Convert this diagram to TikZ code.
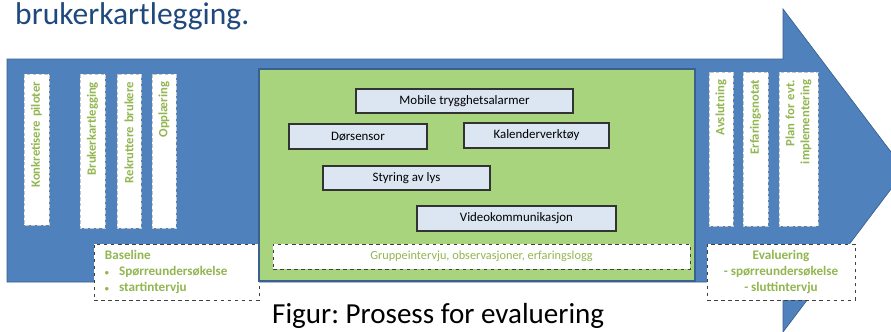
\documentclass[tikz,border=0pt]{standalone}
\usepackage{fontspec}
\setmainfont{Carlito}
\frenchspacing
\usetikzlibrary{positioning}
\definecolor{pilblaa}{RGB}{79,129,189}
\definecolor{pilkant}{RGB}{58,96,142}
\definecolor{feltgronn}{RGB}{168,212,126}
\definecolor{tekstgronn}{RGB}{146,182,80}
\definecolor{boksblaa}{RGB}{220,230,242}
\definecolor{overskrift}{RGB}{31,73,125}
\newcommand{\punkt}{{\fontsize{7}{8}\selectfont\textbullet}\hspace{0.3cm}}
\tikzset{pil/.style={fill=pilblaa,draw=pilkant,line width=0.6pt},
         felt/.style={fill=feltgronn,draw=pilkant,line width=1.4pt,inner sep=0pt},
         tiltak/.style={draw=black!80,fill=boksblaa,line width=0.9pt,inner sep=0pt,
                        font=\fontsize{11}{13}\selectfont},
         stolpe/.style={draw=gray!45,densely dashed,fill=white,rotate=90,align=right,
                        inner xsep=0.24cm,inner ysep=0pt,text=tekstgronn,
                        font=\fontsize{10.8}{12.8}\selectfont\bfseries},
         maaling/.style={draw=black!75,dashed,fill=white,line width=0.7pt,inner sep=0pt,
                        text=tekstgronn,font=\fontsize{11.2}{13.6}\selectfont\bfseries}}

\begin{document}
\begin{tikzpicture}[x=0.03cm,y=-0.03cm]
    \useasboundingbox (0,0) rectangle (891,331);
    \clip (0,0) rectangle (891,331);
    \fill[white] (0,0) rectangle (891,331);

    % pila
    \draw[pil] (7,59) -- (783,59) -- (783,9) -- (905,170.5) -- (783,332)
               -- (783,282) -- (7,282) -- cycle;

    % tittel og figurtekst
    \node[anchor=base west,inner sep=0pt,text=overskrift,font=\fontsize{26.9}{30}\selectfont]
        (tittel) at (15,24) {brukerkartlegging.};
    \node[anchor=base west,inner sep=0pt,font=\fontsize{24.8}{28}\selectfont]
        (figurtekst) at (272,323) {Figur: Prosess for evaluering};

    % forberedelse
    \node[stolpe,minimum width=4.53cm,text width=4.05cm,minimum height=0.75cm]
        (konkretisere) at (36.5,149.5) {Konkretisere piloter};
    \node[stolpe,minimum width=4.62cm,text width=4.14cm,minimum height=0.75cm]
        (kartlegging) at (92.5,151) {Brukerkartlegging};
    \node[stolpe,minimum width=4.62cm,text width=4.14cm,minimum height=0.72cm]
        (rekruttere) at (129,151) {Rekruttere brukere};
    \node[stolpe,minimum width=4.62cm,text width=4.14cm,minimum height=0.72cm]
        (opplaering) at (164,151) {Opplæring};

    \node[maaling,minimum width=4.95cm,minimum height=1.68cm,text width=4.29cm,align=left]
        (baseline) at (176.5,272) {Baseline\\
        \punkt Spørreundersøkelse\\
        \punkt startintervju};

    % pilotperioden
    \node[felt,minimum width=13.08cm,minimum height=6.36cm] (pilotfelt) at (477,175) {};
    \node[tiltak,minimum width=6.51cm,minimum height=0.72cm] (alarmer) at (464.5,101) {Mobile trygghetsalarmer};
    \node[tiltak,minimum width=4.14cm,minimum height=0.75cm] (dorsensor) at (358,136.5) {Dørsensor};
    \node[tiltak,minimum width=4.35cm,minimum height=0.75cm] (kalender) at (536.5,135.5) {Kalenderverktøy};
    \node[tiltak,minimum width=5.01cm,minimum height=0.72cm] (lys) at (406.5,178) {Styring av lys};
    \node[tiltak,minimum width=5.97cm,minimum height=0.75cm] (video) at (516.5,218.5) {Videokommunikasjon};
    \node[maaling,minimum width=12.51cm,minimum height=0.75cm,font=\fontsize{10.5}{12}\selectfont]
        (gruppe) at (481.5,256.5) {Gruppeintervju, observasjoner, erfaringslogg};

    % avslutning
    \node[stolpe,minimum width=4.62cm,text width=4.14cm,minimum height=0.72cm]
        (avslutning) at (721,149) {Avslutning};
    \node[stolpe,minimum width=4.62cm,text width=4.14cm,minimum height=0.75cm]
        (notat) at (755.5,149) {Erfaringsnotat};
    \node[stolpe,minimum width=4.62cm,text width=4.14cm,minimum height=1.17cm]
        (plan) at (798.5,149) {Plan for evt.\\implementering};

    \node[maaling,minimum width=4.44cm,minimum height=1.68cm,align=center]
        (evaluering) at (781,272) {Evaluering\\- spørreundersøkelse\\- sluttintervju};
\end{tikzpicture}
\end{document}
